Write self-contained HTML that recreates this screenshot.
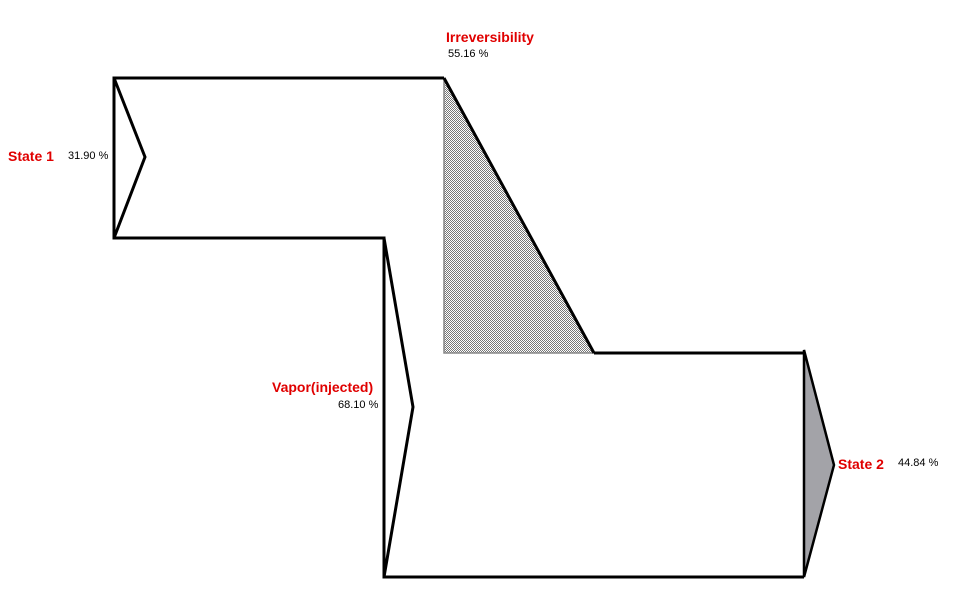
<!DOCTYPE html>
<html><head><meta charset="utf-8"><style>
body{margin:0;background:#fff;width:963px;height:602px;overflow:hidden}
svg{display:block}
.l{font-family:"Liberation Sans",sans-serif;font-weight:bold;fill:#e00000;font-size:14px}
.p{font-family:"Liberation Sans",sans-serif;fill:#000;font-size:11px}
</style></head><body>
<svg width="963" height="602" viewBox="0 0 963 602">
<defs><pattern id="ck" width="2" height="2" patternUnits="userSpaceOnUse">
<rect width="2" height="2" fill="#fff"/><rect width="1" height="1" fill="#777"/><rect x="1" y="1" width="1" height="1" fill="#777"/></pattern></defs>
<polygon points="444,78 594,353 444,353" fill="url(#ck)" stroke="#888" stroke-width="1.5"/>
<polygon points="804,350 834,465 804,577" fill="#a3a3a8" stroke="#000" stroke-width="2.5"/>
<g fill="none" stroke="#000" stroke-width="3" stroke-linejoin="miter">
<polyline points="444,78 114,78 114,238 384,238 384,577 804,577"/>
<polyline points="114,78 145,157 114,238"/>
<polyline points="384,238 413,407 384,577"/>
<line x1="444" y1="78" x2="594" y2="353"/>
<line x1="594" y1="353" x2="804" y2="353"/>
</g>
<text class="l" x="446" y="42">Irreversibility</text>
<text class="p" x="448" y="57">55.16 %</text>
<text class="l" x="8" y="161">State 1</text>
<text class="p" x="68" y="159">31.90 %</text>
<text class="l" x="272" y="392">Vapor(injected)</text>
<text class="p" x="338" y="408">68.10 %</text>
<text class="l" x="838" y="469">State 2</text>
<text class="p" x="898" y="466">44.84 %</text>
</svg>
</body></html>
